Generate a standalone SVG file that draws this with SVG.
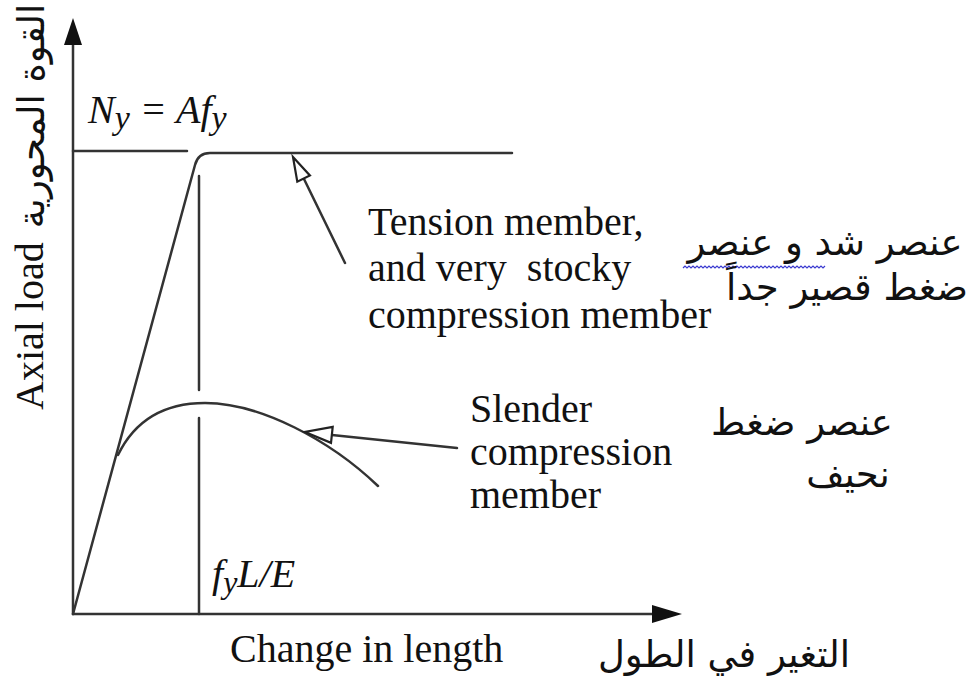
<svg xmlns="http://www.w3.org/2000/svg" width="973" height="680" viewBox="0 0 973 680">
<style>
.ln{fill:none;stroke:#333;stroke-width:2.5;stroke-linecap:round;stroke-linejoin:round}
.ah{fill:#111;stroke:none}
.oh{fill:#fff;stroke:#222;stroke-width:2.2;stroke-linejoin:miter}
.en{font-family:"Liberation Serif","Times New Roman",serif;font-size:40px;fill:#111}
.it{font-style:italic}
.ar{font-family:"DejaVu Sans","Noto Sans",sans-serif;font-size:37px;fill:#111;direction:rtl;text-anchor:middle}
</style>
<rect width="973" height="680" fill="#fff"/>
<g id="axes">
<line class="ln" x1="73" y1="614" x2="73" y2="42"/>
<polygon class="ah" points="73,18 64,45 82,45"/>
<line class="ln" x1="73" y1="614" x2="656" y2="614"/>
<polygon class="ah" points="682,614 652,605 652,623"/>
</g>
<g id="connectors">
<line class="ln" x1="73" y1="151" x2="187" y2="151"/>
<path class="ln" d="M73,614 L195,165 Q198,153 210,153 L512,153"/>
<line class="ln" x1="199" y1="176" x2="199" y2="390"/>
<line class="ln" x1="199" y1="418" x2="199" y2="614"/>
<path class="ln" d="M118,455 C135,420 165,403 205,403 C260,403 330,440 378,486"/>
<line class="ln" x1="304" y1="179" x2="345" y2="263"/>
<polygon class="oh" points="293,157 297.3,181.7 309.9,175.5"/>
<line class="ln" x1="332" y1="435" x2="457" y2="448"/>
<polygon class="oh" points="305,432 331,442.8 332.7,426.9"/>
</g>
<g id="ny-label"><text class="en it" x="88" y="123">N<tspan font-size="34" dy="6">y</tspan><tspan dy="-6"> = Af</tspan><tspan font-size="34" dy="6">y</tspan></text></g>
<g id="fyle-label"><text class="en it" x="212" y="587" font-size="38">f<tspan font-size="32" dy="6">y</tspan><tspan dy="-6">L/E</tspan></text></g>
<g id="tension-label">
<text class="en" x="368" y="235">Tension member,</text>
<text class="en" x="368" y="281" xml:space="preserve">and very  stocky</text>
<text class="en" x="368" y="328">compression member</text>
</g>
<g id="slender-label">
<text class="en" x="470" y="422">Slender</text>
<text class="en" x="470" y="465">compression</text>
<text class="en" x="470" y="508">member</text>
</g>
<g id="x-label"><text class="en" x="230" y="662">Change in length</text></g>
<g id="y-label"><text class="en" transform="translate(43,410) rotate(-90)">Axial load</text></g>
<g id="arabic-labels">
<text class="ar" font-size="32" transform="translate(44,116) rotate(-90)">القوة المحورية</text>
<text class="ar" x="825" y="255">عنصر شد و عنصر</text>
<path d="M683,268 l2,-2 l2,2 l2,-2 l2,2 l2,-2 l2,2 l2,-2 l2,2 l2,-2 l2,2 l2,-2 l2,2 l2,-2 l2,2 l2,-2 l2,2 l2,-2 l2,2 l2,-2 l2,2 l2,-2 l2,2 l2,-2 l2,2 l2,-2 l2,2 l2,-2 l2,2 l2,-2 l2,2 l2,-2 l2,2 l2,-2 l2,2 l2,-2 l2,2 l2,-2 l2,2 l2,-2 l2,2 l2,-2 l2,2 l2,-2 l2,2 l2,-2 l2,2 l2,-2 l2,2 l2,-2 l2,2 l2,-2 l2,2 l2,-2 l2,2 l2,-2 l2,2 l2,-2 l2,2 l2,-2 l2,2 l2,-2 l2,2 l2,-2 l2,2 l2,-2 l2,2 l2,-2 l2,2 l2,-2 l2,2 l2,-2" fill="none" stroke="#3b3bd0" stroke-width="1.2"/>
<text class="ar" x="847" y="300">ضغط قصير جداً</text>
<text class="ar" x="802" y="435">عنصر ضغط</text>
<text class="ar" x="848" y="487">نحيف</text>
<text class="ar" x="724" y="667">التغير في الطول</text>
</g>
</svg>
